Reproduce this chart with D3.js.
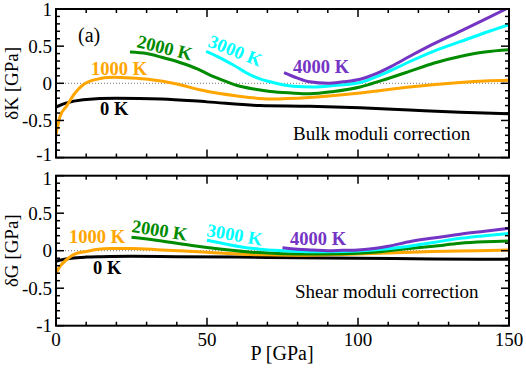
<!DOCTYPE html>
<html><head><meta charset="utf-8">
<script src="https://cdn.jsdelivr.net/npm/d3@7"></script>
<style>body{margin:0;background:#fff}svg{display:block}text{font-family:"Liberation Serif","Times New Roman",serif}</style>
</head><body>
<script>
// ---- data ----
const temps = ["0 K","1000 K","2000 K","3000 K","4000 K"];
const colors = ["#000000","#ffa500","#008b00","#00ffff","#7434c4"];
const xTicks = [0,50,100,150];
const yTicks = [-1,-0.5,0,0.5,1];
const yTickLabels = ["-1","-0.5","0","0.5","1"];

const bulkP0 = [0,3,9,20,35,50,67.5,84,100.7,117,133.8,150];
const bulkV0 = [-0.32,-0.27,-0.22,-0.20,-0.21,-0.25,-0.30,-0.31,-0.33,-0.36,-0.39,-0.41];
const bulkP1 = [0,1.3,3.6,6.3,9,13,19,25,31,40,48,60,71,84,100.7,117,133.8,142,150];
const bulkV1 = [-0.69,-0.45,-0.30,-0.13,-0.02,0.05,0.08,0.07,0.05,-0.01,-0.09,-0.17,-0.21,-0.19,-0.13,-0.05,0.01,0.03,0.04];
const bulkP2 = [24.5,30,35,41,47,51,56,60,66,71,78,84,92,100.7,108,117,125,133.8,142,150];
const bulkV2 = [0.42,0.40,0.35,0.28,0.19,0.11,0.03,-0.03,-0.08,-0.11,-0.13,-0.14,-0.11,-0.05,0.04,0.16,0.27,0.36,0.42,0.45];
const bulkP3 = [49.7,54,58.6,64,67.5,71,78.5,85,92,100.7,108,117,125,133.8,142,150];
const bulkV3 = [0.43,0.35,0.25,0.12,0.06,0.02,-0.04,-0.05,-0.03,0.01,0.12,0.29,0.43,0.56,0.68,0.79];
const bulkP4 = [75.5,80,84,90,95,100.7,106,111.6,117,125,133.8,142,149];
const bulkV4 = [0.145,0.07,0.02,0.0,0.02,0.055,0.13,0.24,0.36,0.53,0.70,0.86,1.0];

const shearP0 = [0,2,5,10,15,25,40,60,80,100,125,150];
const shearV0 = [-0.14,-0.12,-0.10,-0.085,-0.08,-0.075,-0.08,-0.085,-0.095,-0.10,-0.11,-0.115];
const shearP1 = [0,1.5,3.5,6,10,14,18,25,35,50,67.5,80,95,110,125,140,150];
const shearV1 = [-0.30,-0.20,-0.12,-0.05,-0.01,0.02,0.03,0.03,0.01,-0.02,-0.055,-0.06,-0.05,-0.03,-0.01,0.0,0.01];
const shearP2 = [25,35,45,55,65,75,85,95,105,117,125,133.8,142,150];
const shearV2 = [0.18,0.13,0.07,0.02,-0.02,-0.04,-0.045,-0.04,-0.02,0.03,0.06,0.10,0.12,0.13];
const shearP3 = [50,55,60,67.5,75,85,95,105,115,125,133.8,142,150];
const shearV3 = [0.14,0.10,0.06,0.02,0.0,-0.015,-0.01,0.01,0.05,0.11,0.165,0.20,0.23];
const shearP4 = [75,80,85,90,95,100,110,117,125,133.8,142,150];
const shearV4 = [0.04,0.02,0.01,0.0,0.005,0.01,0.06,0.12,0.17,0.22,0.26,0.30];

const bulkP = [bulkP0,bulkP1,bulkP2,bulkP3,bulkP4];
const bulkV = [bulkV0,bulkV1,bulkV2,bulkV3,bulkV4];
const shearP = [shearP0,shearP1,shearP2,shearP3,shearP4];
const shearV = [shearV0,shearV1,shearV2,shearV3,shearV4];

// label placements: [x, y, rotation] in pixels
const bulkLabelPos = [[100,115,0],[91,75,0],[136,47,14],[207,46,22],[293,73,0]];
const shearLabelPos = [[93,274,0],[69,243,0],[131,232,9],[206,236,10],[290,245,0]];

// ---- layout ----
const W = 526, H = 369;
const svg = d3.select("body").append("svg").attr("width",W).attr("height",H);
const x = d3.scaleLinear().domain([0,150]).range([56,509]);

function panel(top, bottom, P, V, labelPos, yTitle, boxText, boxX, boxY, showX, edgeNudge) {
  const y = d3.scaleLinear().domain([-1,1]).range([bottom, top]);
  const g = svg.append("g");
  g.append("line").attr("x1",x(0)).attr("x2",x(150)).attr("y1",y(0)).attr("y2",y(0))
    .attr("stroke","#777").attr("stroke-width",1).attr("stroke-dasharray","1,2");
  const clipId = "clip"+Math.round(top);
  svg.append("clipPath").attr("id",clipId).append("rect")
    .attr("x",x(0)).attr("y",top).attr("width",x(150)-x(0)).attr("height",bottom-top);
  const line = d3.line().x(d=>x(d[0])).y(d=>y(d[1])).curve(d3.curveMonotoneX);
  P.forEach((ps,i)=>{
    const pts = ps.map((p,j)=>[p,V[i][j]]);
    g.append("path").attr("d",line(pts)).attr("fill","none")
      .attr("stroke",colors[i]).attr("stroke-width",3).attr("clip-path","url(#"+clipId+")");
  });
  temps.forEach((t,i)=>{
    const [lx,ly,r] = labelPos[i];
    g.append("text").attr("transform",`translate(${lx},${ly}) rotate(${r})`)
      .attr("font-size",18.5).attr("font-weight","bold").attr("fill",colors[i]).text(t);
  });
  const tickMinorX = d3.range(0,151,10);
  const tickMinorY = d3.range(-10,11).map(v=>v/10);
  const frame = g.append("g");
  tickMinorX.forEach(v=>{
    const major = v%50===0;
    const len = major?8:4;
    frame.append("line").attr("x1",x(v)).attr("x2",x(v)).attr("y1",bottom).attr("y2",bottom-len).attr("stroke","#000").attr("stroke-width",1.5);
    frame.append("line").attr("x1",x(v)).attr("x2",x(v)).attr("y1",top).attr("y2",top+len).attr("stroke","#000").attr("stroke-width",1.5);
  });
  tickMinorY.forEach(v=>{
    const major = Math.abs(Math.round(v*10))%5===0;
    const len = major?8:4;
    frame.append("line").attr("x1",x(0)).attr("x2",x(0)+len).attr("y1",y(v)).attr("y2",y(v)).attr("stroke","#000").attr("stroke-width",1.5);
    frame.append("line").attr("x1",x(150)).attr("x2",x(150)-len).attr("y1",y(v)).attr("y2",y(v)).attr("stroke","#000").attr("stroke-width",1.5);
  });
  frame.append("rect").attr("x",x(0)).attr("y",top).attr("width",x(150)-x(0)).attr("height",bottom-top)
    .attr("fill","none").attr("stroke","#000").attr("stroke-width",2);
  yTicks.forEach((v,i)=>{
    let dy = 6.5;
    if (v===-1) dy += edgeNudge[0];
    if (v===1) dy += edgeNudge[1];
    g.append("text").attr("x",52).attr("y",y(v)+dy).attr("text-anchor","end")
      .attr("font-size",19).text(yTickLabels[i]);
  });
  if (showX) {
    xTicks.forEach(v=>{
      g.append("text").attr("x",x(v)).attr("y",bottom+20).attr("text-anchor","middle")
        .attr("font-size",19).text(v);
    });
  }
  g.append("text").attr("transform",`translate(18,${(top+bottom)/2}) rotate(-90)`)
    .attr("text-anchor","middle").attr("font-size",19).text(yTitle);
  g.append("text").attr("x",boxX).attr("y",boxY).attr("font-size",19).text(boxText);
}

panel(9, 157.6, bulkP, bulkV, bulkLabelPos, "δK [GPa]", "Bulk moduli correction", 293, 140, false, [-3,0]);
panel(175.7, 325.7, shearP, shearV, shearLabelPos, "δG [GPa]", "Shear moduli correction", 295, 298, true, [0,3]);

svg.append("text").attr("x",78).attr("y",42).attr("font-size",20).text("(a)");
svg.append("text").attr("x",282).attr("y",360).attr("text-anchor","middle").attr("font-size",20).text("P [GPa]");
</script>
</body></html>
